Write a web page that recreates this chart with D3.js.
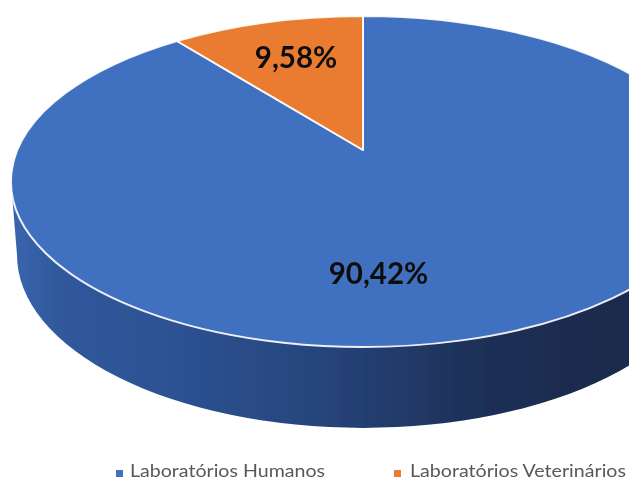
<!DOCTYPE html>
<html>
<head>
<meta charset="utf-8">
<script src="https://cdn.jsdelivr.net/npm/d3@7"></script>
<style>
  html, body { margin: 0; padding: 0; background: #fff; }
  svg { display: block; }
  text { font-family: Lato, "Open Sans", sans-serif; }
</style>
</head>
<body>
<svg id="chart" width="629" height="480"></svg>
<script>
var categories = ["Laboratórios Humanos", "Laboratórios Veterinários"];
var shares = [90.42, 9.58];
var colors = ["#4170c0", "#ea7c30"];

var svg = d3.select("#chart");
var color = d3.scaleOrdinal().domain(categories).range(colors);
var fmt = d3.formatLocale({ decimal: ",", thousands: ".", grouping: [3], currency: ["", ""] }).format(".2f");

// layout of the tilted disc
var apex = { x: 363, y: 150 };          // where the slices meet, off-centre because of the perspective
var topFace = { cx: 363, cy: 181.5, rx: 352, ry: 165.5 };
var bottomFace = { cx: 363, cy: 255, rx: 346, ry: 173 };
var labelPos = [[378.5, 274], [296, 58]];

var arcs = d3.pie().sort(null)(shares);

// the far side of the disc is foreshortened, so pie angles don't map 1:1 on to the ellipse
var rimAngle = d3.scaleLinear()
    .domain([0, arcs[0].endAngle, 2 * Math.PI])
    .range([0, 2 * Math.PI - 31.9 * Math.PI / 180, 2 * Math.PI]);

function rim(a) {
  var t = rimAngle(a);
  return [topFace.cx + topFace.rx * Math.sin(t), topFace.cy - topFace.ry * Math.cos(t)];
}

function slicePath(d) {
  var p0 = rim(d.startAngle), p1 = rim(d.endAngle);
  var large = rimAngle(d.endAngle) - rimAngle(d.startAngle) > Math.PI ? 1 : 0;
  return "M" + apex.x + "," + apex.y + "L" + p0 + "A" + topFace.rx + "," + topFace.ry + " 0 " + large + " 1 " + p1 + "Z";
}

var defs = svg.append("defs");
var grad = defs.append("linearGradient").attr("id", "wall")
    .attr("gradientUnits", "userSpaceOnUse")
    .attr("x1", 11).attr("x2", 600).attr("y1", 0).attr("y2", 0);
[[0, "#3a66ae"], [0.083, "#30589c"], [0.32, "#2c508f"], [0.49, "#27477f"], [0.66, "#223a69"], [0.83, "#1c2e53"], [1, "#1a2b4e"]].forEach(function(s) {
  grad.append("stop").attr("offset", s[0]).attr("stop-color", s[1]);
});

// the reference is a slightly soft screenshot
defs.append("filter").attr("id", "soft")
  .append("feGaussianBlur").attr("stdDeviation", 0.45);

var root = svg.append("g").attr("filter", "url(#soft)");

// side wall
root.append("path")
    .attr("fill", "url(#wall)")
    .attr("d", "M" + (topFace.cx - topFace.rx) + "," + topFace.cy +
      "L" + (bottomFace.cx - bottomFace.rx) + "," + bottomFace.cy +
      "A" + bottomFace.rx + "," + bottomFace.ry + " 0 0 0 " + (bottomFace.cx + bottomFace.rx) + "," + bottomFace.cy +
      "L" + (topFace.cx + topFace.rx) + "," + topFace.cy + "Z");

// top face
root.append("g").selectAll("path")
    .data(arcs)
    .enter().append("path")
    .attr("d", slicePath)
    .attr("fill", function(d, i) { return color(categories[i]); })
    .attr("stroke", "#fff")
    .attr("stroke-opacity", 0.9)
    .attr("stroke-width", 2)
    .attr("stroke-linejoin", "round");

// value labels
root.append("g").selectAll("text")
    .data(shares)
    .enter().append("text")
    .attr("x", function(d, i) { return labelPos[i][0]; })
    .attr("y", function(d, i) { return labelPos[i][1]; })
    .attr("dy", "0.35em")
    .attr("text-anchor", "middle")
    .attr("font-size", 29.5)
    .attr("font-weight", 700)
    .attr("fill", "#111")
    .text(function(d) { return fmt(d) + "%"; });

// legend
var legendX = [116, 394];
var legendW = [195, 216];
var legend = root.append("g").selectAll("g")
    .data(categories)
    .enter().append("g")
    .attr("transform", function(d, i) { return "translate(" + legendX[i] + ",469)"; });

legend.append("rect")
    .attr("width", 7).attr("height", 7).attr("y", 1)
    .attr("fill", function(d) { return color(d); });

legend.append("text")
    .attr("x", function(d, i) { return i ? 16 : 14; })
    .attr("y", 8)
    .attr("font-size", 16.5)
    .attr("textLength", function(d, i) { return legendW[i]; })
    .attr("lengthAdjust", "spacingAndGlyphs")
    .attr("fill", "#595959")
    .text(function(d) { return d; });
</script>
</body>
</html>
